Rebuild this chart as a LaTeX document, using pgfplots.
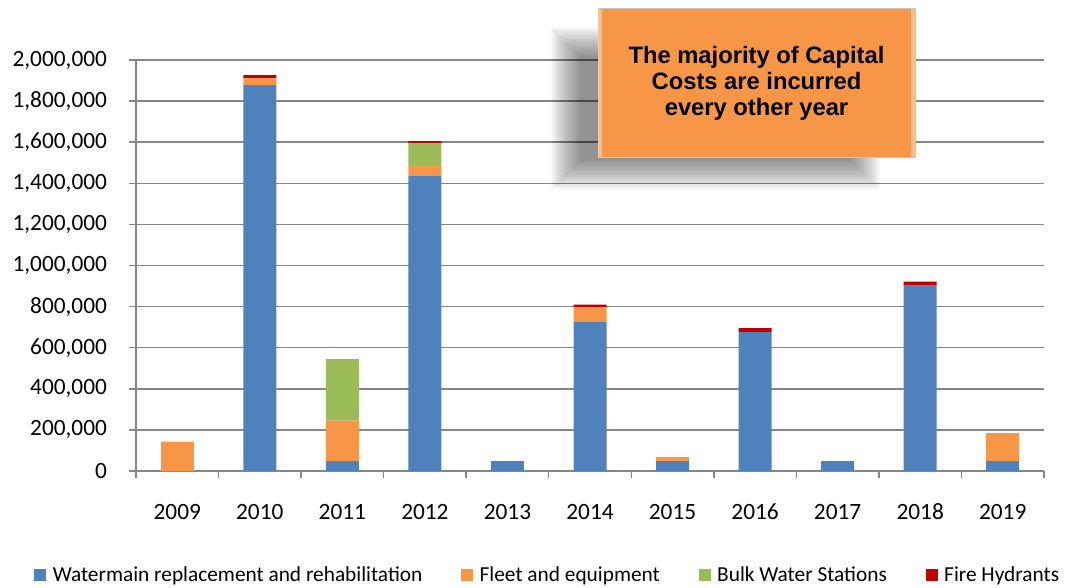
\documentclass[border=0pt]{standalone}
\usepackage{pgfplots}
\pgfplotsset{compat=1.18}
\usepackage{fontspec}
\setmainfont{Carlito}
\newfontfamily\calloutfont{Liberation Sans}
\definecolor{cBlue}{RGB}{79,129,189}
\definecolor{cOrange}{RGB}{247,150,70}
\definecolor{cGreen}{RGB}{155,187,89}
\definecolor{cRed}{RGB}{192,0,0}
\definecolor{axisgray}{RGB}{134,134,134}
\begin{document}
\begin{tikzpicture}
\useasboundingbox (-102pt,-87pt) rectangle (699pt,353.25pt);
\begin{axis}[
  at={(0,0)}, anchor=south west,
  scale only axis, width=681pt, height=308.25pt,
  ybar stacked, bar width=24.75pt,
  xmin=-0.5, xmax=10.5, ymin=0, ymax=2000000,
  axis x line*=bottom, axis y line*=left,
  axis line style={-, draw=axisgray, line width=1.1pt},
  xtick={-0.5,0.5,1.5,2.5,3.5,4.5,5.5,6.5,7.5,8.5,9.5,10.5},
  xticklabels={},
  extra x ticks={0,1,2,3,4,5,6,7,8,9,10},
  extra x tick labels={2009,2010,2011,2012,2013,2014,2015,2016,2017,2018,2019},
  extra x tick style={major tick length=0pt, tick style={draw=none}},
  tick align=outside, major tick length=5.25pt,
  tick style={draw=axisgray, line width=1.1pt},
  ymajorgrids, grid style={draw=axisgray, line width=1.1pt},
  ytick={0,200000,400000,600000,800000,1000000,1200000,1400000,1600000,1800000,2000000},
  scaled y ticks=false,
  /pgf/number format/assume math mode=true,
  yticklabel style={/pgf/number format/fixed, /pgf/number format/1000 sep={,}, xshift=-13pt},
  tick label style={font=\fontsize{17.5}{20}\selectfont, text=black},
  xticklabel style={anchor=base, yshift=-36pt},
  legend columns=4,
  legend cell align=left,
  legend style={at={(0.4537,-0.253)}, anchor=center, draw=none, fill=none,
    font=\fontsize{16}{19}\selectfont,
    /tikz/every odd column/.append style={column sep=3pt},
    /tikz/every even column/.append style={column sep=27pt}},
  legend image code/.code={\fill[#1] (0pt,-4.5pt) rectangle (9pt,4.5pt);},
]
\addplot[fill=cBlue, draw=none] coordinates {(0,0) (1,1878000) (2,48000) (3,1435000) (4,48000) (5,725000) (6,48000) (7,676000) (8,48000) (9,902000) (10,48000)};
\addplot[fill=cOrange, draw=none] coordinates {(0,143000) (1,33000) (2,197000) (3,54000) (4,0) (5,72000) (6,19000) (7,0) (8,0) (9,0) (10,136000)};
\addplot[fill=cGreen, draw=none] coordinates {(0,0) (1,0) (2,300000) (3,105000) (4,0) (5,0) (6,0) (7,0) (8,0) (9,0) (10,0)};
\addplot[fill=cRed, draw=none] coordinates {(0,0) (1,16000) (2,0) (3,11000) (4,0) (5,13000) (6,0) (7,19000) (8,0) (9,19000) (10,0)};
\legend{Watermain replacement and rehabilitation, Fleet and equipment, Bulk Water Stations, Fire Hydrants}
\end{axis}
% callout shadow (soft, offset down-left)
\foreach \e in {0,1,...,22} {
  \fill[black, opacity=0.022] (333pt-\e pt, 233pt-\e pt) rectangle (536pt+\e pt, 311pt+\e pt);
}
\node[fill=cOrange, draw=gray!45, line width=0.5pt, minimum width=237.75pt, minimum height=111.75pt,
  inner sep=0pt, align=center, text=black,
  font=\calloutfont\bfseries\fontsize{17.8}{19.5}\selectfont] at (465.4pt,291pt)
  {The majority of Capital\\Costs are incurred\\every other year};
\fill[cOrange!45!white, opacity=0.7] (346.75pt,235.5pt) rectangle (349.5pt,346.75pt);
\fill[cOrange!45!white, opacity=0.7] (581.25pt,235.5pt) rectangle (584pt,346.75pt);
\end{tikzpicture}
\end{document}
